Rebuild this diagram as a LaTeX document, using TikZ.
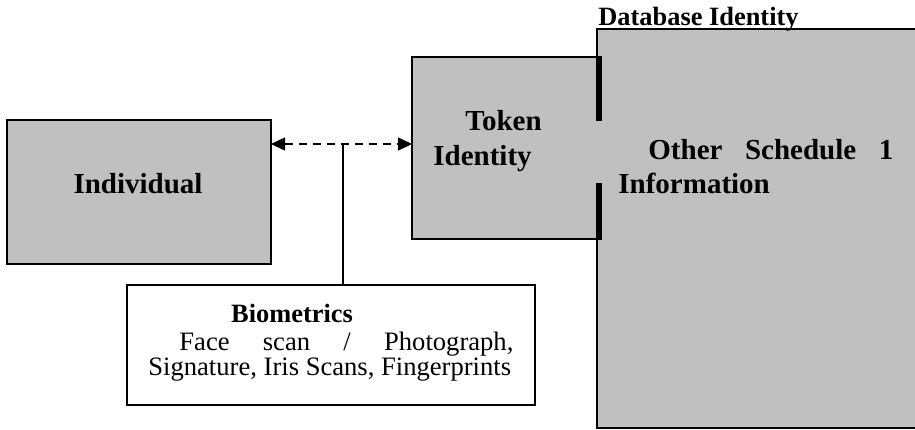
\documentclass[tikz,border=0pt]{standalone}
\usepackage{fontspec}
\setmainfont{Liberation Serif}
\usetikzlibrary{arrows.meta}
\definecolor{boxgray}{HTML}{C0C0C0}
\tikzset{
  gbox/.style={fill=boxgray, draw=black, line width=0.75pt, inner sep=0pt, outer sep=0pt, anchor=north west},
  wbox/.style={fill=white, draw=black, line width=0.75pt, inner sep=0pt, outer sep=0pt, anchor=north west},
  bigtxt/.style={font=\fontsize{14.5}{17}\selectfont\bfseries, inner sep=0pt},
  midtxt/.style={font=\fontsize{13.2}{15}\selectfont\bfseries, inner sep=0pt},
  smalltxt/.style={font=\fontsize{13.3}{15}\selectfont, inner sep=0pt},
  link/.style={draw=black, line width=0.75pt, dash pattern=on 4pt off 3pt, {Triangle[length=7pt,width=6.5pt]}-{Triangle[length=7pt,width=6.5pt]}},
  bar/.style={line width=3pt},
  plain/.style={line width=0.75pt}
}
\begin{document}
\begin{tikzpicture}[x=0.5pt,y=-0.5pt]
\useasboundingbox (0,0) rectangle (915,429);
% database box
\node[gbox, minimum width=170pt, minimum height=199.5pt] (db) at (597,29) {};
% token box
\node[gbox, draw=none, minimum width=92.5pt, minimum height=91pt] (tok) at (412,57) {};
\fill[boxgray] ([xshift=-1pt]tok.north east) rectangle ([xshift=1.5pt]tok.south east);
\draw[plain] (tok.north east) -- (tok.north west) -- (tok.south west) -- (tok.south east);
\draw[bar] ([xshift=0.8pt,yshift=0.4pt]tok.north east) -- ++(0,65);
\draw[bar] ([xshift=1.2pt,yshift=-0.4pt]tok.south east) -- ++(0,-57);
% individual box
\node[gbox, minimum width=132pt, minimum height=72pt] (ind) at (7,120) {};
% biometrics box
\node[wbox, minimum width=204pt, minimum height=60pt] (bio) at (127,285) {};
% texts
\node[midtxt, anchor=base west] (dbl) at (598,25) {Database Identity};
\node[bigtxt, anchor=base] (indl) at (138,193) {Individual};
\node[bigtxt, anchor=base west] (tokl1) at (465,130) {Token};
\node[bigtxt, anchor=base west] (tokl2) at (433,165) {Identity};
\node[bigtxt, anchor=base west] (dbt1) at (648,159) {\hbox to 122.5pt{Other\hfill Schedule\hfill 1}};
\node[bigtxt, anchor=base west] (dbt2) at (618,193) {Information};
\node[midtxt, anchor=base] (biol) at (292,322) {Biometrics};
\node[smalltxt, anchor=base west] (bio1) at (179,350) {\hbox to 167pt{Face\hfill scan\hfill /\hfill Photograph,}};
\node[smalltxt, anchor=base west] (bio2) at (148,375) {Signature, Iris Scans, Fingerprints};
% connectors
\coordinate (ay) at (343,144);
\draw[link] (ind.east |- ay) -- (tok.west |- ay);
\draw[plain] (ay) -- (ay |- bio.north);
\end{tikzpicture}
\end{document}
